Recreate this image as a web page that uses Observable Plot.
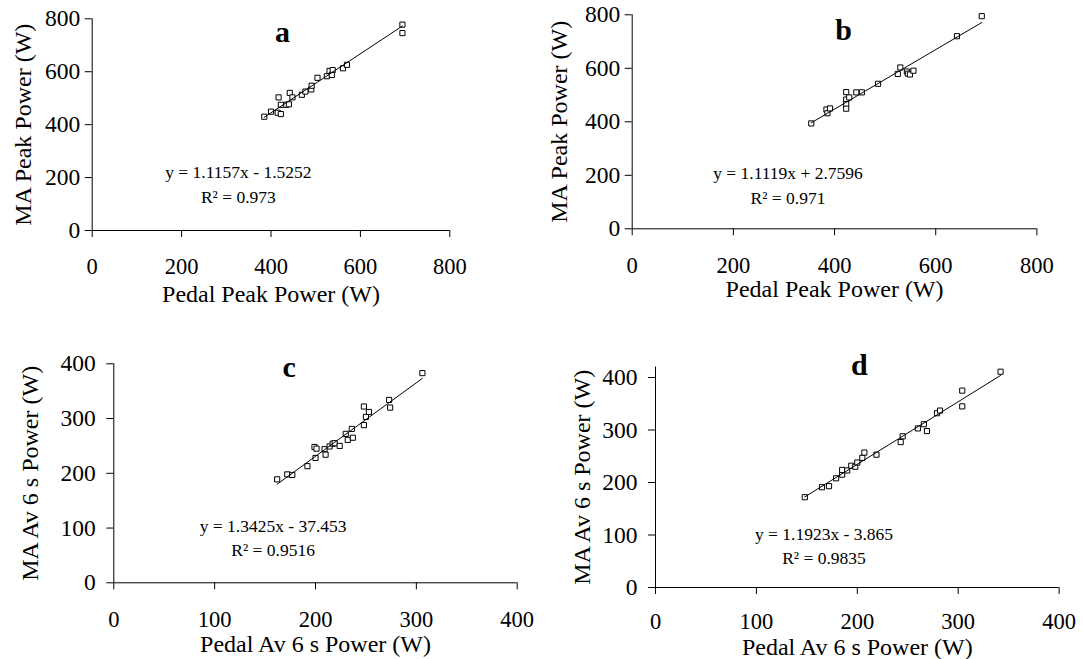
<!DOCTYPE html>
<html>
<head>
<meta charset="utf-8">
<script src="https://cdn.jsdelivr.net/npm/d3@7"></script>
<script src="https://cdn.jsdelivr.net/npm/@observablehq/plot@0.6"></script>
<style>
  html, body { margin: 0; padding: 0; background: #fff; }
  #wrap { position: relative; width: 1083px; height: 659px; overflow: hidden; font-family: "Liberation Serif", "Times New Roman", serif; }
  #wrap > div { position: absolute; }
</style>
</head>
<body>
<div id="wrap"></div>
<script>
// ---- Data ----
// Panel a: peak power
const aPedal = [385, 400, 415, 422, 417, 422, 434, 440, 442, 448, 469, 477, 490, 491, 504, 525, 531, 538, 536, 561, 570, 694, 694];
const aMA    = [430, 449, 445, 440, 503, 475, 475, 477, 520, 503, 513, 525, 533, 547, 577, 583, 603, 606, 588, 613, 626, 778, 746];
// Panel b: peak power
const bPedal = [354, 384, 386, 391, 423, 423, 423, 423, 429, 443, 454, 486, 525, 530, 543, 545, 549, 556, 642, 691];
const bMA    = [394, 446, 432, 450, 511, 483, 466, 449, 491, 510, 510, 542, 579, 603, 588, 580, 577, 591, 720, 795];
// Panel c: average 6 s power
const cPedal = [162, 172, 177, 192, 200, 199, 201, 209, 210, 214, 217, 219, 224, 230, 232, 236, 237, 248, 248, 250, 253, 273, 274, 306];
const cMA    = [189, 198, 197, 213, 228, 248, 245, 244, 234, 249, 254, 255, 250, 272, 261, 281, 265, 288, 322, 303, 312, 334, 320, 383];
// Panel d: average 6 s power
const dPedal = [148, 165, 172, 179, 185, 185, 190, 194, 198, 200, 205, 207, 219, 243, 245, 260, 266, 269, 279, 282, 304, 304, 342];
const dMA    = [172, 191, 193, 208, 215, 224, 223, 232, 230, 238, 247, 257, 253, 277, 288, 303, 311, 298, 332, 337, 375, 345, 411];

// Regression equations (as printed)
const slopes     = [1.1157, 1.1119, 1.3425, 1.1923];
const intercepts = [-1.5252, 2.7596, -37.453, -3.865];
const eqTexts = ["y = 1.1157x - 1.5252", "y = 1.1119x + 2.7596", "y = 1.3425x - 37.453", "y = 1.1923x - 3.865"];
const r2Texts = ["R² = 0.973", "R² = 0.971", "R² = 0.9516", "R² = 0.9835"];
const letters = ["a", "b", "c", "d"];

// Axis labels and ticks
const xLabels = ["Pedal Peak Power (W)", "Pedal Peak Power (W)", "Pedal Av 6 s Power (W)", "Pedal Av 6 s Power (W)"];
const yLabels = ["MA Peak Power (W)", "MA Peak Power (W)", "MA Av 6 s Power (W)", "MA Av 6 s Power (W)"];
const peakTicks = [0, 200, 400, 600, 800];
const avTicks = [0, 100, 200, 300, 400];

const pedal = [aPedal, bPedal, cPedal, dPedal];
const ma = [aMA, bMA, cMA, dMA];

// ---- Layout (positions only) ----
const layout = [
  {left: 0,   top: 0,   width: 540, height: 320, mL: 91.7,  mR: 90.7, mT: 18.3, mB: 90,   xMax: 800, yMax: 800, xT: peakTicks, yT: peakTicks,
   yPad: 5, xPad: 21, xLabOff: 71.7, yLabOff: 78, letter: [426, 750], eq: [327, 218], r2: [327, 124]},
  {left: 540, top: 0,   width: 543, height: 320, mL: 91.7,  mR: 46.6, mT: 14.3, mB: 91.7, xMax: 800, yMax: 800, xT: peakTicks, yT: peakTicks,
   yPad: 5, xPad: 21, xLabOff: 68.4, yLabOff: 82.5, letter: [418, 741], eq: [308, 209], r2: [308, 112]},
  {left: 0,   top: 330, width: 540, height: 329, mL: 113.3, mR: 23.3, mT: 33.3, mB: 76.7, xMax: 400, yMax: 400, xT: avTicks, yT: avTicks,
   yPad: 11, xPad: 21, xLabOff: 69.4, yLabOff: 92.5, letter: [174, 394], eq: [158, 103], r2: [158, 59]},
  {left: 540, top: 330, width: 543, height: 329, mL: 115,   mR: 24.4, mT: 36.5, mB: 72,   xMax: 400, yMax: 420, xT: avTicks, yT: avTicks,
   yPad: 11, xPad: 19, xLabOff: 67, yLabOff: 82.5, letter: [202, 423], eq: [167, 102], r2: [167, 55]}
];

const wrap = document.getElementById("wrap");
layout.forEach((L, i) => {
  const pts = pedal[i].map((x, j) => ({x, y: ma[i][j]}));
  const [xmin, xmax] = d3.extent(pedal[i]);
  const fit = [xmin, xmax].map(x => ({x, y: slopes[i] * x + intercepts[i]}));
  const chart = Plot.plot({
    width: L.width, height: L.height,
    marginLeft: L.mL, marginRight: L.mR, marginTop: L.mT, marginBottom: L.mB,
    style: {fontFamily: '"Liberation Serif", "Times New Roman", serif', fontSize: "22px", color: "#000", background: "transparent", overflow: "visible"},
    x: {domain: [0, L.xMax]},
    y: {domain: [0, L.yMax]},
    marks: [
      Plot.axisX({ticks: L.xT, tickSize: 7, tickPadding: L.xPad, tickFormat: d => String(d), fontSize: 22.5, label: null}),
      Plot.axisX({ticks: [], tickSize: 0, fontSize: 24,
                  label: xLabels[i], labelAnchor: "center", labelOffset: L.xLabOff, labelArrow: "none"}),
      Plot.axisY({ticks: L.yT, tickSize: 7, tickPadding: L.yPad, tickFormat: d => String(d), fontSize: 23.5, label: null}),
      Plot.axisY({ticks: [], tickSize: 0, fontSize: 24,
                  label: yLabels[i], labelAnchor: "center", labelOffset: L.yLabOff, labelArrow: "none"}),
      Plot.ruleX([0], {stroke: "#000", strokeWidth: 1}),
      Plot.ruleY([0], {stroke: "#000", strokeWidth: 1}),
      Plot.dot(pts, {x: "x", y: "y", symbol: "square", r: 2.9, stroke: "#000", strokeWidth: 1, fill: "white"}),
      Plot.line(fit, {x: "x", y: "y", stroke: "#000", strokeWidth: 1}),
      Plot.text([letters[i]], {x: () => L.letter[0], y: () => L.letter[1], text: d => d, fontSize: 30, fontWeight: "bold", fill: "#000"}),
      Plot.text([eqTexts[i]], {x: () => L.eq[0], y: () => L.eq[1], text: d => d, fontSize: 17.5, fill: "#000"}),
      Plot.text([r2Texts[i]], {x: () => L.r2[0], y: () => L.r2[1], text: d => d, fontSize: 17.5, fill: "#000"})
    ]
  });
  const holder = document.createElement("div");
  holder.style.left = L.left + "px";
  holder.style.top = L.top + "px";
  holder.appendChild(chart);
  wrap.appendChild(holder);
});
</script>
</body>
</html>
